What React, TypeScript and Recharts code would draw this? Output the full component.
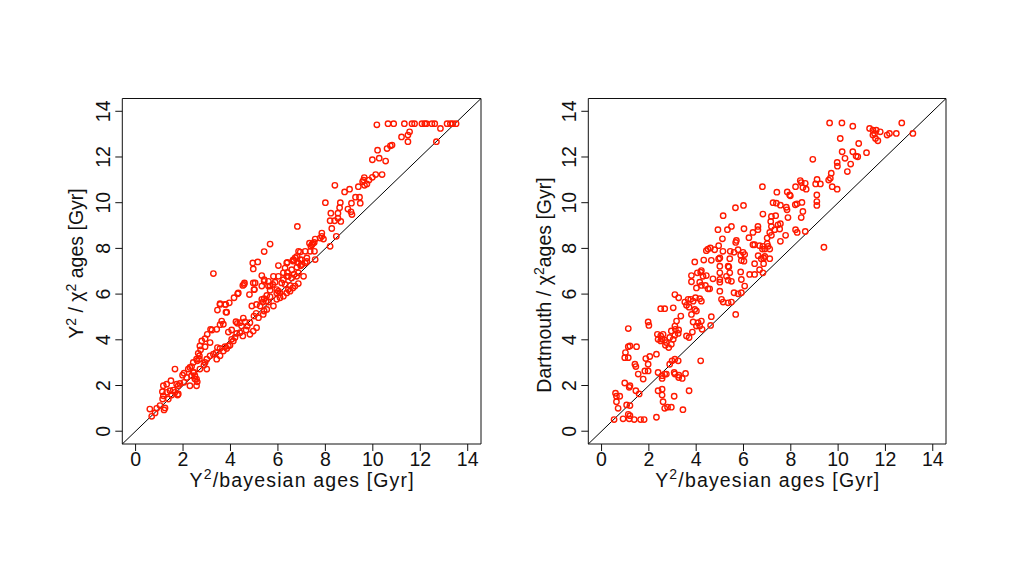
import React from 'react';
import { ScatterChart, Scatter, XAxis, YAxis, ReferenceLine, ReferenceArea } from 'recharts';

const axisTicks = [0, 2, 4, 6, 8, 10, 12, 14];
const axisDomain: [number, number] = [-0.56, 14.56];

// [Y2/bayesian age, Y2/chi2 age] in Gyr
const bayesVsChi2: [number, number][] = [
  [3.28, 6.9], [4.94, 7.36], [5.15, 7.41], [4.96, 7.1], [4.96, 6.49], [5.01, 6.2], [5.32, 6.81], [5.42, 6.56],
  [4.8, 5.98], [4.57, 6.42], [4.3, 6.01], [4.15, 5.84], [3.95, 5.62], [3.8, 5.55], [3.56, 5.58], [3.45, 5.3],
  [3.81, 5.21], [3.63, 4.82], [3.7, 4.68], [3.56, 4.66], [3.42, 4.46], [3.16, 4.46], [3.22, 4.43], [3.02, 4.24],
  [2.93, 4.05], [3.14, 3.88], [2.93, 3.7], [2.79, 3.95], [2.71, 3.73], [2.74, 3.56], [2.64, 3.41], [2.69, 3.3],
  [2.57, 3.15], [2.6, 3.08], [2.43, 3.01], [2.36, 2.83], [2.22, 2.72], [2.43, 2.57], [2.5, 2.43], [2.57, 2.28],
  [2.6, 2.16], [2.57, 1.99], [2.46, 2.57], [2.71, 2.72], [2.88, 2.89], [2.93, 3.01], [3.0, 3.15], [3.14, 3.3],
  [3.28, 3.37], [3.39, 3.44], [3.45, 3.66], [3.56, 3.62], [3.77, 3.7], [3.91, 3.73], [4.05, 4.02], [4.19, 4.1],
  [4.26, 4.28], [4.23, 4.79], [4.29, 4.72], [4.4, 4.75], [4.47, 4.6], [4.54, 4.95], [4.61, 4.78], [4.66, 4.43],
  [4.71, 4.6], [4.82, 4.75], [4.99, 5.04], [5.08, 5.16], [5.25, 5.48], [5.36, 5.65], [5.42, 5.8], [5.53, 5.94],
  [5.6, 5.65], [5.67, 6.35], [5.78, 6.42], [5.88, 6.52], [5.95, 6.2], [6.02, 6.13], [6.09, 6.05], [6.16, 6.49],
  [6.3, 6.42], [6.44, 6.2], [6.51, 6.38], [6.58, 6.71], [6.68, 6.86], [6.79, 6.78], [6.86, 6.93], [6.37, 7.36],
  [6.65, 7.44], [6.02, 7.25], [6.23, 6.93], [6.37, 6.78], [4.82, 4.24], [4.96, 4.38], [5.1, 4.53], [5.38, 5.11],
  [5.53, 5.33], [5.81, 5.48], [5.95, 5.77], [6.23, 5.91], [6.51, 6.13], [6.72, 6.35], [5.42, 5.26], [5.18, 4.97],
  [1.66, 2.72], [1.49, 2.21], [1.31, 2.06], [1.17, 1.99], [1.13, 1.73], [1.31, 1.7], [1.45, 1.77], [1.59, 1.8],
  [1.8, 1.99], [1.87, 2.09], [1.77, 1.58], [2.04, 2.14], [1.98, 2.45], [2.04, 2.54], [1.73, 2.06], [0.82, 0.8],
  [0.68, 0.65], [0.6, 0.97], [0.89, 1.0], [1.03, 1.12], [1.17, 1.55], [1.14, 1.41], [1.2, 0.93], [1.24, 1.02],
  [1.38, 1.41], [1.52, 1.58], [1.66, 1.7], [1.8, 1.63], [2.29, 2.79], [2.36, 2.43], [2.5, 2.28], [2.15, 2.35],
  [2.29, 1.99], [2.69, 3.15], [3.0, 2.72], [3.42, 3.15], [3.56, 3.3], [3.7, 3.51], [3.84, 3.62], [3.98, 3.76],
  [4.12, 3.95], [3.91, 4.34], [4.05, 4.43], [4.4, 4.31], [4.52, 4.17],
  [10.17, 13.41], [10.64, 13.46], [10.88, 13.46], [11.33, 13.46], [11.65, 13.46], [11.76, 13.46], [12.07, 13.46],
  [12.19, 13.46], [12.26, 13.46], [12.49, 13.46], [12.61, 13.46], [13.13, 13.46], [13.27, 13.46], [13.37, 13.46],
  [13.51, 13.46], [12.85, 13.25], [12.68, 12.67], [11.55, 13.1], [11.48, 12.96], [11.21, 12.88], [11.48, 12.67],
  [10.81, 12.52], [10.74, 12.49], [10.6, 12.37], [10.2, 12.3], [9.98, 11.88], [10.27, 11.95], [10.54, 11.82],
  [10.12, 11.23], [10.39, 11.23], [9.98, 11.11], [9.84, 10.99], [9.64, 11.1], [9.61, 10.99], [9.57, 10.92],
  [9.75, 10.82], [9.65, 10.76], [9.39, 10.7], [9.02, 10.59], [8.81, 10.47], [8.4, 10.76], [9.27, 10.24],
  [9.44, 10.24], [9.1, 9.98], [9.47, 9.98], [8.63, 10.0], [8.6, 9.78], [8.95, 9.72], [8.0, 10.0], [9.08, 9.6],
  [9.12, 9.48], [8.53, 9.54], [8.23, 9.54], [8.2, 9.21], [8.39, 9.21], [8.53, 9.32], [8.65, 9.18], [8.27, 8.87],
  [8.46, 8.53], [8.2, 8.09], [7.85, 8.67], [7.85, 8.53], [7.78, 8.45], [7.92, 8.41], [7.57, 8.41], [7.53, 8.26],
  [7.43, 8.16], [7.39, 8.09], [7.47, 8.21], [7.15, 7.87], [6.94, 7.84], [7.36, 7.87], [7.54, 7.87], [6.66, 7.51],
  [6.94, 7.51], [6.8, 7.65], [7.22, 7.58], [7.57, 7.51], [7.01, 7.29], [7.15, 7.36], [6.87, 7.36],
  [6.82, 8.96], [5.67, 8.19], [5.42, 7.86], [6.4, 7.39], [6.63, 7.48], [6.73, 7.59], [6.87, 7.87], [7.01, 7.5],
  [7.33, 8.23], [7.22, 7.43], [6.4, 6.95], [6.3, 7.14], [6.58, 7.07], [6.8, 7.18], [6.96, 7.24], [5.42, 6.63],
  [5.6, 6.56], [5.81, 6.78], [6.02, 6.78], [6.23, 6.63], [6.44, 6.78], [4.33, 6.05], [4.52, 6.38], [4.59, 6.49],
  [4.99, 6.2], [5.04, 6.49], [5.32, 6.35], [5.6, 6.35], [5.67, 6.17], [5.95, 6.05], [3.56, 5.55], [3.77, 5.55],
  [3.84, 5.21], [4.9, 5.48], [5.1, 5.55], [5.32, 5.77], [5.5, 5.69], [5.67, 5.88], [6.09, 5.84], [6.37, 6.05],
  [6.63, 6.27], [6.86, 6.46], [7.08, 6.78],
];

// [Y2/bayesian age, Dartmouth/chi2 age] in Gyr
const bayesVsDartmouth: [number, number][] = [
  [6.8, 10.7], [6.82, 9.5], [5.66, 9.78], [6.0, 9.88], [5.14, 9.43], [4.92, 8.82], [5.32, 8.82], [5.49, 8.96],
  [6.02, 8.86], [5.11, 8.42], [5.7, 8.35], [5.67, 8.26], [6.23, 8.47], [6.4, 8.7], [6.61, 8.96], [6.61, 8.82],
  [4.95, 8.12], [5.13, 7.87], [4.5, 7.97], [4.6, 8.02], [4.43, 7.9], [4.78, 7.94], [5.44, 7.87], [5.77, 7.94],
  [5.6, 7.83], [5.98, 7.83], [6.05, 7.73], [6.4, 8.16], [6.47, 8.16], [6.68, 8.12], [6.82, 8.09], [5.88, 7.7],
  [6.62, 7.68], [6.85, 7.58], [4.22, 7.03], [3.94, 7.41], [4.32, 7.49], [4.64, 7.48], [4.95, 7.54], [5.0, 7.58],
  [5.42, 7.55], [5.91, 7.47], [6.02, 7.44], [6.47, 7.33], [5.0, 7.22], [5.35, 7.22],
  [3.8, 6.81], [4.19, 6.96], [4.05, 6.93], [4.29, 6.78], [4.43, 6.81], [3.8, 6.54], [4.15, 6.52], [4.22, 6.38],
  [4.01, 6.27], [4.39, 6.38], [4.5, 6.23], [4.57, 6.23], [4.71, 6.67], [5.0, 6.93], [5.0, 6.64], [5.0, 6.52],
  [5.28, 6.78], [5.35, 6.61], [5.49, 6.56], [5.38, 7.19], [5.42, 6.93], [5.88, 6.97], [5.91, 6.64], [6.05, 6.35],
  [6.26, 6.86], [6.47, 6.86], [6.68, 7.07], [6.82, 6.93], [5.6, 6.06], [5.77, 6.01], [5.91, 6.06], [5.0, 6.13],
  [3.1, 5.98], [3.26, 5.84], [3.52, 5.65], [3.66, 5.77], [3.77, 5.77], [3.87, 5.69], [3.97, 5.84], [4.15, 5.8],
  [4.22, 5.69], [3.59, 5.51], [3.7, 5.43], [3.94, 5.33], [4.01, 5.26], [3.8, 5.11], [3.35, 5.04], [3.03, 5.4],
  [2.5, 5.36], [2.67, 5.36], [5.07, 5.77], [5.14, 5.65], [5.35, 5.62], [5.49, 5.65], [5.67, 5.11], [4.64, 5.01],
  [4.61, 4.63], [4.22, 4.82], [4.08, 4.75], [3.87, 4.78], [4.01, 4.6], [4.15, 4.6], [4.25, 4.46], [3.84, 4.34],
  [3.59, 4.17], [3.7, 4.1], [3.17, 4.82], [3.1, 4.6], [3.12, 4.46], [3.26, 4.43], [3.24, 4.28], [2.95, 4.39],
  [3.1, 4.2], [2.88, 4.1], [3.03, 4.02], [2.95, 3.8], [2.84, 3.66], [1.97, 4.78], [2.0, 4.63], [2.36, 4.24],
  [2.5, 4.17], [2.6, 4.24], [2.56, 4.02], [2.67, 3.99], [2.74, 3.88], [2.5, 3.95], [2.39, 4.02], [2.7, 3.76],
  [2.32, 3.37], [1.13, 4.49], [1.2, 3.73], [1.13, 3.7], [1.48, 3.7], [1.01, 3.44], [0.98, 3.22], [1.13, 3.22],
  [1.41, 2.93], [1.45, 2.83], [1.55, 2.5], [1.87, 3.18], [2.04, 3.27], [1.97, 2.93], [1.97, 2.64], [1.83, 2.64],
  [1.76, 2.28], [2.39, 2.57], [2.56, 2.43], [2.56, 2.31], [2.67, 2.5], [2.74, 2.5], [2.88, 2.93], [2.98, 3.08],
  [3.1, 3.15], [3.24, 3.08], [3.07, 2.57], [3.26, 2.35], [3.41, 2.31], [3.55, 2.53], [3.27, 2.45], [3.7, 1.77],
  [4.19, 3.08], [0.98, 2.11], [1.2, 1.99], [1.17, 1.92], [1.45, 1.77], [1.59, 1.63], [0.59, 1.66], [0.63, 1.53],
  [0.77, 1.53], [0.63, 1.29], [0.7, 1.0], [1.06, 1.15], [1.2, 1.12], [1.13, 0.74], [1.2, 0.68], [1.17, 0.54],
  [1.38, 0.51], [0.91, 0.54], [0.53, 0.51], [1.65, 0.51], [1.8, 0.51], [2.32, 0.61], [2.56, 1.58], [2.6, 1.29],
  [2.67, 1.0], [2.79, 1.05], [2.95, 1.05], [3.07, 1.53], [3.44, 0.94], [2.56, 1.84], [2.39, 1.77], [3.1, 2.5],
  [9.64, 13.49], [10.16, 13.49], [10.62, 13.35], [11.33, 13.25], [11.47, 13.17], [11.61, 13.17], [11.78, 13.1],
  [11.54, 13.03], [11.47, 12.96], [11.58, 12.81], [11.68, 12.71], [12.07, 12.96], [12.17, 13.03], [12.46, 13.03],
  [12.69, 13.49], [13.16, 13.03], [10.09, 12.81], [10.87, 12.59], [10.17, 12.23], [10.62, 12.23], [10.76, 12.04],
  [10.83, 12.01], [11.2, 12.19], [8.93, 11.9], [10.29, 11.94], [9.96, 11.76], [9.97, 11.6], [10.53, 11.69],
  [10.39, 11.36], [9.71, 11.29], [9.6, 10.99], [9.67, 11.07], [9.11, 11.02], [9.05, 10.82], [9.25, 10.82],
  [9.75, 10.7], [9.96, 10.59], [8.4, 10.97], [8.44, 10.88], [8.61, 10.85], [8.51, 10.66], [8.65, 10.59],
  [8.2, 10.7], [7.41, 10.46], [7.85, 10.47], [7.98, 10.3], [7.95, 10.34], [9.1, 10.34], [9.1, 10.05],
  [9.1, 9.88], [7.25, 10.0], [7.39, 9.98], [7.56, 9.89], [7.81, 9.8], [7.84, 9.69], [8.19, 9.91], [8.26, 9.95],
  [8.47, 10.01], [8.51, 9.62], [8.44, 9.35], [7.88, 9.35], [7.18, 9.4], [7.36, 9.43], [7.15, 9.18], [7.46, 9.03],
  [7.56, 9.08], [7.53, 8.85], [7.32, 8.82], [7.18, 8.96], [7.11, 8.7], [7.18, 8.57], [7.0, 8.45], [8.2, 8.82],
  [8.27, 8.7], [7.78, 8.57], [8.61, 8.74], [7.56, 8.31], [9.4, 8.05], [7.0, 8.21], [7.04, 8.09], [6.9, 7.97],
  [6.8, 7.97], [7.11, 7.97], [6.9, 7.65], [6.75, 7.55], [6.85, 7.33], [7.11, 7.55],
];

const FONT = '"Liberation Sans", Arial, Helvetica, sans-serif';
const INK = '#111';
const POINT = '#ff1a00';

const XTick = (props: any) => {
  const { x, y, payload } = props;
  return (
    <text x={x} y={y + 14.5} textAnchor="middle" fontSize={19.5} fontFamily={FONT} fill={INK}>
      {payload.value}
    </text>
  );
};

const YTick = (props: any) => {
  const { x, y, payload } = props;
  const px = x - 5;
  return (
    <text x={px} y={y} transform={`rotate(-90 ${px} ${y})`} textAnchor="middle" fontSize={19.5} fontFamily={FONT} fill={INK}>
      {payload.value}
    </text>
  );
};

const OpenCircle = (props: any) => (
  <circle cx={props.cx} cy={props.cy} r={2.7} fill="none" stroke={POINT} strokeWidth={1.4} />
);

interface PanelProps {
  points: [number, number][];
  left: number;
  width: number;
  margin: { top: number; right: number; bottom: number; left: number };
  xTitleX: number;
  yTitleX: number;
  yTitleY: number;
  yTitle: React.ReactNode;
}

const Panel: React.FC<PanelProps> = ({ points, left, width, margin, xTitleX, yTitleX, yTitleY, yTitle }) => {
  const data = points.map(([x, y]) => ({ x, y }));
  return (
    <div style={{ position: 'absolute', left, top: 0, width, height: 561 }}>
      <ScatterChart width={width} height={561} margin={margin}>
        <XAxis
          type="number"
          dataKey="x"
          domain={axisDomain}
          allowDataOverflow
          ticks={axisTicks}
          interval={0}
          height={40}
          axisLine={false}
          tickLine={{ stroke: INK }}
          tickSize={7}
          tickMargin={0}
          tick={<XTick />}
        />
        <YAxis
          type="number"
          dataKey="y"
          domain={axisDomain}
          allowDataOverflow
          ticks={axisTicks}
          interval={0}
          width={40}
          axisLine={false}
          tickLine={{ stroke: INK }}
          tickSize={7}
          tickMargin={0}
          tick={<YTick />}
        />
        <ReferenceArea x1={axisDomain[0]} x2={axisDomain[1]} y1={axisDomain[0]} y2={axisDomain[1]} fill="none" stroke={INK} strokeWidth={1} ifOverflow="visible" />
        <Scatter data={data} shape={<OpenCircle />} isAnimationActive={false} />
        <ReferenceLine
          segment={[{ x: axisDomain[0], y: axisDomain[0] }, { x: axisDomain[1], y: axisDomain[1] }]}
          stroke="#000"
          strokeWidth={1}
          ifOverflow="visible"
        />
      </ScatterChart>
      <svg width={width} height={561} style={{ position: 'absolute', left: 0, top: 0, pointerEvents: 'none' }}>
        <text x={xTitleX} y={486.5} textAnchor="middle" fontSize={19.5} fontFamily={FONT} fill={INK} textLength={224} lengthAdjust="spacing">
          Y<tspan dy={-7.5} fontSize={14}>2</tspan><tspan dy={7.5}>/bayesian ages [Gyr]</tspan>
        </text>
        <text
          x={yTitleX}
          y={yTitleY}
          transform={`rotate(-90 ${yTitleX} ${yTitleY})`}
          textAnchor="middle"
          fontSize={19.5}
          fontFamily={FONT}
          fill={INK}
        >
          {yTitle}
        </text>
      </svg>
    </div>
  );
};

export default function App() {
  return (
    <div style={{ position: 'absolute', left: 0, top: 0, width: 1035, height: 561, background: '#fff' }}>
      <Panel
        points={bayesVsChi2}
        left={0}
        width={517}
        margin={{ top: 98.5, right: 36, bottom: 77, left: 82.3 }}
        xTitleX={301.6}
        yTitleX={83}
        yTitleY={263.5}
        yTitle={
          <>
            Y<tspan dy={-7.5} fontSize={14}>2</tspan>
            <tspan dy={7.5}> / χ</tspan>
            <tspan dy={-7.5} fontSize={14}>2</tspan>
            <tspan dy={7.5}> ages [Gyr]</tspan>
          </>
        }
      />
      <Panel
        points={bayesVsDartmouth}
        left={517}
        width={518}
        margin={{ top: 98.5, right: 89, bottom: 77, left: 31.3 }}
        xTitleX={250.2}
        yTitleX={34}
        yTitleY={285}
        yTitle={
          <>
            Dartmouth / χ<tspan dy={-7.5} fontSize={14}>2</tspan>
            <tspan dy={7.5}>ages [Gyr]</tspan>
          </>
        }
      />
    </div>
  );
}
